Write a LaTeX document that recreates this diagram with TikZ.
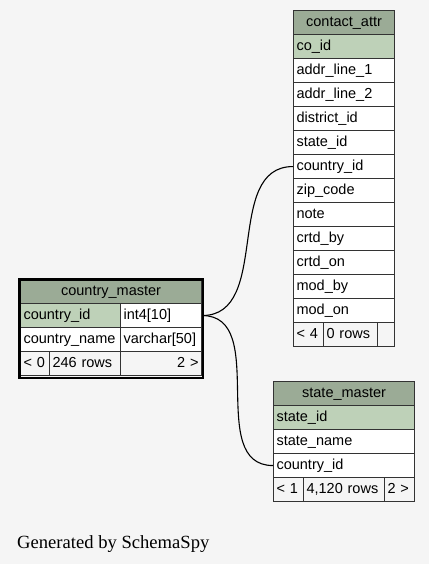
\documentclass[tikz,border=0pt]{standalone}
\usepackage{fontspec}
\setmainfont{Liberation Serif}
\setsansfont{Liberation Sans}
\definecolor{bgc}{HTML}{F5F5F5}
\definecolor{hdrc}{HTML}{9BAB96}
\definecolor{pkc}{HTML}{BED1B8}
\definecolor{ftc}{HTML}{F5F5F5}
\begin{document}
\begin{tikzpicture}[x=1pt,y=-1pt,
  cell/.style={draw=black!80, line width=1.1pt, anchor=north west, inner xsep=3pt, inner ysep=0pt,
    minimum height=24pt, text height=11pt, text depth=3pt, align=left,
    font=\sffamily\fontsize{14.5}{16}\selectfont, fill=white},
  hdr/.style={fill=hdrc, align=center},
  pk/.style={fill=pkc},
  ft/.style={fill=ftc},
  edge/.style={draw=black, line width=1.1pt}]
\useasboundingbox (0,0) rectangle (429,564);
\fill[bgc] (0,0) rectangle (429,564);

% contact_attr
\node[cell,hdr,text width=95pt] (cahead) at (293,10) {contact\_attr};
\node[cell,pk,text width=95pt] (caco) at (293,34) {co\_id};
\node[cell,text width=95pt] (caaddra) at (293,58) {addr\_line\_1};
\node[cell,text width=95pt] (caaddrb) at (293,82) {addr\_line\_2};
\node[cell,text width=95pt] (cadistrict) at (293,106) {district\_id};
\node[cell,text width=95pt] (castate) at (293,130) {state\_id};
\node[cell,text width=95pt] (cacountry) at (293,154) {country\_id};
\node[cell,text width=95pt] (cazip) at (293,178) {zip\_code};
\node[cell,text width=95pt] (canote) at (293,202) {note};
\node[cell,text width=95pt] (cacrby) at (293,226) {crtd\_by};
\node[cell,text width=95pt] (cacron) at (293,250) {crtd\_on};
\node[cell,text width=95pt] (camodby) at (293,274) {mod\_by};
\node[cell,text width=95pt] (camodon) at (293,298) {mod\_on};
\node[cell,ft,text width=24pt] (caparents) at (293,322) {< 4};
\node[cell,ft,text width=48pt] (carows) at (323,322) {0 rows};
\node[cell,ft,text width=11pt] (cachildren) at (377,322) {};

% country_master
\node[cell,hdr,text width=175pt] (cmhead) at (20,279) {country\_master};
\node[cell,pk,text width=94pt] (cmid) at (20,303) {country\_id};
\node[cell,text width=75pt] (cmtype) at (120,303) {int4[10]};
\node[cell,text width=94pt] (cmname) at (20,327) {country\_name};
\node[cell,text width=75pt] (cmnametype) at (120,327) {varchar[50]};
\node[cell,ft,text width=23pt] (cmparents) at (20,351) {< 0};
\node[cell,ft,text width=65pt] (cmrows) at (49,351) {246 rows};
\node[cell,ft,text width=75pt,align=right] (cmchildren) at (120,351) {2 >};
\node[draw=black, line width=2.5pt, anchor=north west, inner sep=0pt,
  minimum width=183.5pt, minimum height=98.25pt] (cmframe) at (18.25,278.25) {};

% state_master
\node[cell,hdr,text width=135pt] (smhead) at (273,381) {state\_master};
\node[cell,pk,text width=135pt] (smid) at (273,405) {state\_id};
\node[cell,text width=135pt] (smname) at (273,429) {state\_name};
\node[cell,text width=135pt] (smcountry) at (273,453) {country\_id};
\node[cell,ft,text width=24pt] (smparents) at (273,477) {< 1};
\node[cell,ft,text width=75pt] (smrows) at (303,477) {4,120 rows};
\node[cell,ft,text width=24pt] (smchildren) at (384,477) {2 >};

% connectors
\draw[edge] (cmtype.east) .. controls +(70,0) and +(-70,0) .. (cacountry.west);
\draw[edge] (cmtype.east) .. controls +(68,0) and +(-68,0) .. (smcountry.west);

\node[font=\fontsize{18.6}{20}\selectfont, anchor=base west, inner sep=0pt] (gen) at (17,548) {Generated by SchemaSpy};
\end{tikzpicture}
\end{document}
